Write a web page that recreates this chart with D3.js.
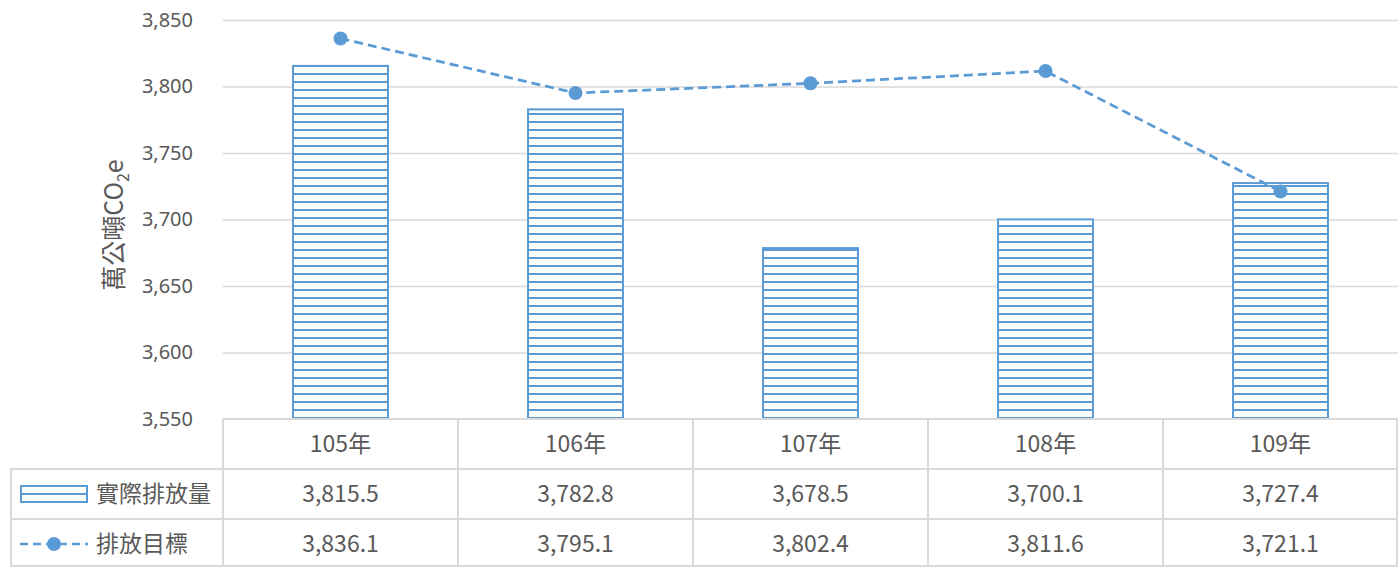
<!DOCTYPE html>
<html>
<head>
<meta charset="utf-8">
<script src="https://cdn.jsdelivr.net/npm/d3@7"></script>
<style>
  html, body { margin: 0; padding: 0; background: #fff; }
  svg { display: block; font-family: "Noto Sans CJK TC", "Noto Sans", sans-serif; }
</style>
</head>
<body>
<svg id="chart" width="1398" height="567"></svg>
<script>
// Annual emissions: actual vs. target (萬公噸CO2e)
const categories = ["105年", "106年", "107年", "108年", "109年"];
const actual = [3815.5, 3782.8, 3678.5, 3700.1, 3727.4];
const target = [3836.1, 3795.1, 3802.4, 3811.6, 3721.1];
const yTicks = [3550, 3600, 3650, 3700, 3750, 3800, 3850];
const seriesNames = ["實際排放量", "排放目標"];

const BLUE = "#5b9bd5";
const TEXT = "#595959";
const GRID = "#d9d9d9";

const svg = d3.select("#chart");
const W = 1398, H = 567;
const plotLeft = 223, plotRight = 1398, plotTop = 20, plotBottom = 419;
const tableLeft = 10;
const rowH = 50;

const x = d3.scaleBand()
  .domain(categories)
  .range([plotLeft, plotRight])
  .paddingInner(0.596)
  .paddingOuter(0.298);

const y = d3.scaleLinear()
  .domain([yTicks[0], yTicks[yTicks.length - 1]])
  .range([plotBottom, plotTop]);

// Horizontal hatch used to fill the bars
const defs = svg.append("defs");
const pat = defs.append("pattern")
  .attr("id", "hatch")
  .attr("patternUnits", "userSpaceOnUse")
  .attr("width", 8).attr("height", 8);
pat.append("rect").attr("width", 8).attr("height", 8).attr("fill", "#fff");
pat.append("rect").attr("x", 0).attr("y", 1).attr("width", 8).attr("height", 2).attr("fill", BLUE);

// Gridlines
svg.append("g")
  .selectAll("line")
  .data(yTicks.slice(1))
  .join("line")
  .attr("x1", plotLeft).attr("x2", plotRight)
  .attr("y1", d => y(d) + 0.5).attr("y2", d => y(d) + 0.5)
  .attr("stroke", GRID).attr("stroke-width", 1.5);

// Y axis labels
const yAxis = d3.axisLeft(y).tickValues(yTicks).tickFormat(d3.format(",")).tickSize(0).tickPadding(0);
const yg = svg.append("g").attr("transform", `translate(193,0)`).call(yAxis);
yg.select(".domain").remove();
yg.selectAll("text")
  .attr("fill", TEXT)
  .attr("font-size", 20)
  .attr("font-family", "'Noto Sans', sans-serif");

// Y axis title
const title = svg.append("text")
  .attr("transform", `translate(123,225) rotate(-90)`)
  .attr("text-anchor", "middle")
  .attr("fill", TEXT)
  .attr("font-size", 25);
title.append("tspan").text("萬公噸CO");
title.append("tspan").text("2").attr("font-size", 16).attr("dy", 6);
title.append("tspan").text("e").attr("dy", -6);

// Bars
svg.append("g")
  .selectAll("rect")
  .data(actual)
  .join("rect")
  .attr("x", (d, i) => x(categories[i]))
  .attr("y", d => y(d))
  .attr("width", x.bandwidth())
  .attr("height", d => y(yTicks[0]) - y(d))
  .attr("fill", "url(#hatch)")
  .attr("stroke", BLUE)
  .attr("stroke-width", 2);

// Target line
const cx = (d, i) => x(categories[i]) + x.bandwidth() / 2;
svg.append("path")
  .datum(target)
  .attr("d", d3.line().x(cx).y(d => y(d)))
  .attr("fill", "none")
  .attr("stroke", BLUE)
  .attr("stroke-width", 2.75)
  .attr("stroke-dasharray", "9,5");
svg.append("g")
  .selectAll("circle")
  .data(target)
  .join("circle")
  .attr("cx", cx)
  .attr("cy", d => y(d))
  .attr("r", 7)
  .attr("fill", BLUE);

// Data table
const table = svg.append("g");
const colEdges = categories.map(c => x(c) - (x.step() - x.bandwidth()) / 2).concat([plotRight]);
const hLines = [
  { y: plotBottom, x1: plotLeft, x2: plotRight },
  { y: plotBottom + rowH, x1: tableLeft, x2: plotRight },
  { y: plotBottom + rowH * 2, x1: tableLeft, x2: plotRight },
  { y: H - 1, x1: tableLeft, x2: plotRight }
];
table.selectAll("line.h")
  .data(hLines)
  .join("line")
  .attr("class", "h")
  .attr("x1", d => d.x1).attr("x2", d => d.x2)
  .attr("y1", d => d.y).attr("y2", d => d.y)
  .attr("stroke", GRID).attr("stroke-width", 2);
table.selectAll("line.v")
  .data(colEdges)
  .join("line")
  .attr("class", "v")
  .attr("x1", d => Math.min(d, W - 1)).attr("x2", d => Math.min(d, W - 1))
  .attr("y1", plotBottom).attr("y2", H)
  .attr("stroke", GRID).attr("stroke-width", 2);
table.append("line")
  .attr("x1", tableLeft + 1).attr("x2", tableLeft + 1)
  .attr("y1", plotBottom + rowH).attr("y2", H)
  .attr("stroke", GRID).attr("stroke-width", 2);

// Header row: categories
table.selectAll("text.cat")
  .data(categories)
  .join("text")
  .attr("class", "cat")
  .attr("x", d => x(d) + x.bandwidth() / 2)
  .attr("y", plotBottom + rowH / 2)
  .attr("dy", "0.35em")
  .attr("text-anchor", "middle")
  .attr("fill", TEXT)
  .attr("font-size", 23)
  .text(d => d);

// Value rows
const fmt = d3.format(",.1f");
[actual, target].forEach((vals, r) => {
  table.selectAll(`text.val${r}`)
    .data(vals)
    .join("text")
    .attr("class", `val${r}`)
    .attr("x", (d, i) => x(categories[i]) + x.bandwidth() / 2)
    .attr("y", plotBottom + rowH * (r + 1) + rowH / 2)
    .attr("dy", "0.35em")
    .attr("text-anchor", "middle")
    .attr("fill", TEXT)
    .attr("font-size", 23)
    .text(d => fmt(d));
});

// Legend keys inside the table
const r1 = plotBottom + rowH * 1.5, r2 = plotBottom + rowH * 2.5;
table.append("rect")
  .attr("x", 21).attr("y", r1 - 8).attr("width", 66).attr("height", 16)
  .attr("fill", "#fff").attr("stroke", BLUE).attr("stroke-width", 2);
table.append("line")
  .attr("x1", 21).attr("x2", 87).attr("y1", r1).attr("y2", r1)
  .attr("stroke", BLUE).attr("stroke-width", 2);
table.append("line")
  .attr("x1", 20).attr("x2", 88).attr("y1", r2).attr("y2", r2)
  .attr("stroke", BLUE).attr("stroke-width", 2.5).attr("stroke-dasharray", "8,5");
table.append("circle").attr("cx", 54).attr("cy", r2).attr("r", 7).attr("fill", BLUE);
table.selectAll("text.leg")
  .data(seriesNames)
  .join("text")
  .attr("class", "leg")
  .attr("x", 96)
  .attr("y", (d, i) => i === 0 ? r1 : r2)
  .attr("dy", "0.35em")
  .attr("fill", TEXT)
  .attr("font-size", 23)
  .text(d => d);
</script>
</body>
</html>
